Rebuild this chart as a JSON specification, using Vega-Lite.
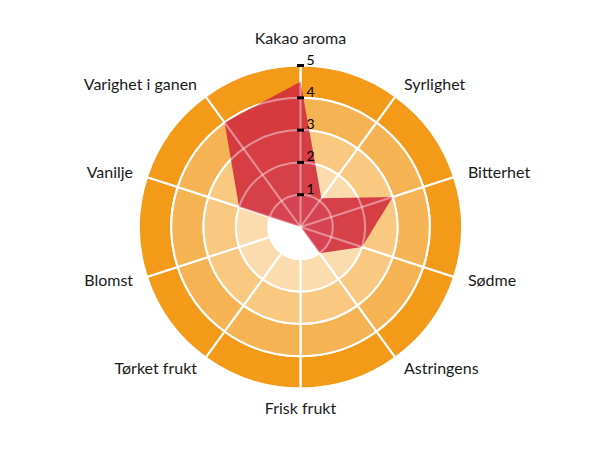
{
  "$schema": "https://vega.github.io/schema/vega-lite/v6.json",
  "width": 323,
  "height": 323,
  "autosize": "none",
  "padding": {"left": 139, "top": 65.5, "right": 148, "bottom": 61.5},
  "background": "white",
  "config": {"view": {"stroke": null}},
  "data": {
    "values": [
      {"axis": "Kakao aroma", "value": 4.5},
      {"axis": "Syrlighet", "value": 1.1},
      {"axis": "Bitterhet", "value": 3},
      {"axis": "Sødme", "value": 2},
      {"axis": "Astringens", "value": 1},
      {"axis": "Frisk frukt", "value": 0},
      {"axis": "Tørket frukt", "value": 0},
      {"axis": "Blomst", "value": 0},
      {"axis": "Vanilje", "value": 2},
      {"axis": "Varighet i ganen", "value": 4}
    ]
  },
  "transform": [
    {"window": [{"op": "row_number", "as": "rn"}]},
    {"calculate": "datum.rn - 1", "as": "i"},
    {"calculate": "datum.i * 2 * PI / 10", "as": "ang"},
    {"calculate": "datum.value * sin(datum.ang)", "as": "px"},
    {"calculate": "datum.value * cos(datum.ang)", "as": "py"},
    {"calculate": "5.45 * sin(datum.ang)", "as": "lx"},
    {"calculate": "5.45 * cos(datum.ang)", "as": "ly"}
  ],
  "layer": [
    {
      "mark": {"type": "arc", "fill": "#f39a19", "stroke": "white", "strokeWidth": 2},
      "encoding": {
        "theta": {"aggregate": "count", "type": "quantitative", "stack": true},
        "detail": {"field": "axis"},
        "radius": {"datum": 5, "type": "quantitative", "scale": {"type": "linear", "domain": [0, 5], "range": [0, 161.5], "zero": true}},
        "radius2": {"datum": 4}
      }
    },
    {
      "mark": {"type": "arc", "fill": "#f6b353", "stroke": "white", "strokeWidth": 2},
      "encoding": {
        "theta": {"aggregate": "count", "type": "quantitative", "stack": true},
        "detail": {"field": "axis"},
        "radius": {"datum": 4, "type": "quantitative"},
        "radius2": {"datum": 3}
      }
    },
    {
      "mark": {"type": "arc", "fill": "#f9c881", "stroke": "white", "strokeWidth": 2},
      "encoding": {
        "theta": {"aggregate": "count", "type": "quantitative", "stack": true},
        "detail": {"field": "axis"},
        "radius": {"datum": 3, "type": "quantitative"},
        "radius2": {"datum": 2}
      }
    },
    {
      "mark": {"type": "arc", "fill": "#fbdcaf", "stroke": "white", "strokeWidth": 2},
      "encoding": {
        "theta": {"aggregate": "count", "type": "quantitative", "stack": true},
        "detail": {"field": "axis"},
        "radius": {"datum": 2, "type": "quantitative"},
        "radius2": {"datum": 1}
      }
    },
    {
      "mark": {"type": "line", "fill": "#d02a3b", "fillOpacity": 0.88, "strokeWidth": 0, "strokeOpacity": 0, "interpolate": "linear"},
      "encoding": {
        "x": {"field": "px", "type": "quantitative", "scale": {"domain": [-5, 5], "nice": false, "zero": false}, "axis": null},
        "y": {"field": "py", "type": "quantitative", "scale": {"domain": [-5, 5], "nice": false, "zero": false}, "axis": null},
        "order": {"field": "i"}
      }
    },
    {
      "mark": {"type": "arc", "fill": null, "stroke": "white", "strokeWidth": 2, "strokeOpacity": 0.22},
      "encoding": {
        "theta": {"aggregate": "count", "type": "quantitative", "stack": true},
        "detail": {"field": "axis"},
        "radius": {"datum": 5, "type": "quantitative"},
        "radius2": {"datum": 4}
      }
    },
    {
      "mark": {"type": "arc", "fill": null, "stroke": "white", "strokeWidth": 2, "strokeOpacity": 0.22},
      "encoding": {
        "theta": {"aggregate": "count", "type": "quantitative", "stack": true},
        "detail": {"field": "axis"},
        "radius": {"datum": 4, "type": "quantitative"},
        "radius2": {"datum": 3}
      }
    },
    {
      "mark": {"type": "arc", "fill": null, "stroke": "white", "strokeWidth": 2, "strokeOpacity": 0.22},
      "encoding": {
        "theta": {"aggregate": "count", "type": "quantitative", "stack": true},
        "detail": {"field": "axis"},
        "radius": {"datum": 3, "type": "quantitative"},
        "radius2": {"datum": 2}
      }
    },
    {
      "mark": {"type": "arc", "fill": null, "stroke": "white", "strokeWidth": 2, "strokeOpacity": 0.22},
      "encoding": {
        "theta": {"aggregate": "count", "type": "quantitative", "stack": true},
        "detail": {"field": "axis"},
        "radius": {"datum": 2, "type": "quantitative"},
        "radius2": {"datum": 1}
      }
    },
    {
      "mark": {"type": "arc", "fill": null, "stroke": "white", "strokeWidth": 2, "strokeOpacity": 0.22},
      "encoding": {
        "theta": {"aggregate": "count", "type": "quantitative", "stack": true},
        "detail": {"field": "axis"},
        "radius": {"datum": 1, "type": "quantitative"},
        "radius2": {"datum": 0}
      }
    },
    {
      "data": {"values": [{"v": 1}, {"v": 2}, {"v": 3}, {"v": 4}, {"v": 5}]},
      "transform": [],
      "layer": [
        {
          "mark": {"type": "tick", "orient": "horizontal", "color": "black", "size": 7, "thickness": 3, "opacity": 1},
          "encoding": {
            "x": {"datum": 0, "type": "quantitative", "axis": null},
            "y": {"field": "v", "type": "quantitative", "axis": null}
          }
        },
        {
          "mark": {"type": "text", "align": "left", "baseline": "alphabetic", "dx": 6, "dy": -1, "font": "Lato", "fontSize": 14, "color": "black"},
          "encoding": {
            "x": {"datum": 0, "type": "quantitative", "axis": null},
            "y": {"field": "v", "type": "quantitative", "axis": null},
            "text": {"field": "v", "type": "quantitative"}
          }
        }
      ]
    },
    {
      "transform": [{"filter": "datum.i == 0"}],
      "mark": {"type": "text", "align": "center", "baseline": "bottom", "dy": -4, "font": "Lato", "fontSize": 16, "color": "#1a1a1a"},
      "encoding": {
        "x": {"field": "lx", "type": "quantitative", "axis": null},
        "y": {"field": "ly", "type": "quantitative", "axis": null},
        "text": {"field": "axis"}
      }
    },
    {
      "transform": [{"filter": "datum.i == 5"}],
      "mark": {"type": "text", "align": "center", "baseline": "top", "dy": -2, "font": "Lato", "fontSize": 16, "color": "#1a1a1a"},
      "encoding": {
        "x": {"field": "lx", "type": "quantitative", "axis": null},
        "y": {"field": "ly", "type": "quantitative", "axis": null},
        "text": {"field": "axis"}
      }
    },
    {
      "transform": [{"filter": "datum.i > 0 && datum.i < 5"}],
      "mark": {"type": "text", "align": "left", "baseline": "middle", "font": "Lato", "fontSize": 16, "color": "#1a1a1a"},
      "encoding": {
        "x": {"field": "lx", "type": "quantitative", "axis": null},
        "y": {"field": "ly", "type": "quantitative", "axis": null},
        "text": {"field": "axis"}
      }
    },
    {
      "transform": [{"filter": "datum.i > 5"}],
      "mark": {"type": "text", "align": "right", "baseline": "middle", "font": "Lato", "fontSize": 16, "color": "#1a1a1a"},
      "encoding": {
        "x": {"field": "lx", "type": "quantitative", "axis": null},
        "y": {"field": "ly", "type": "quantitative", "axis": null},
        "text": {"field": "axis"}
      }
    }
  ]
}
